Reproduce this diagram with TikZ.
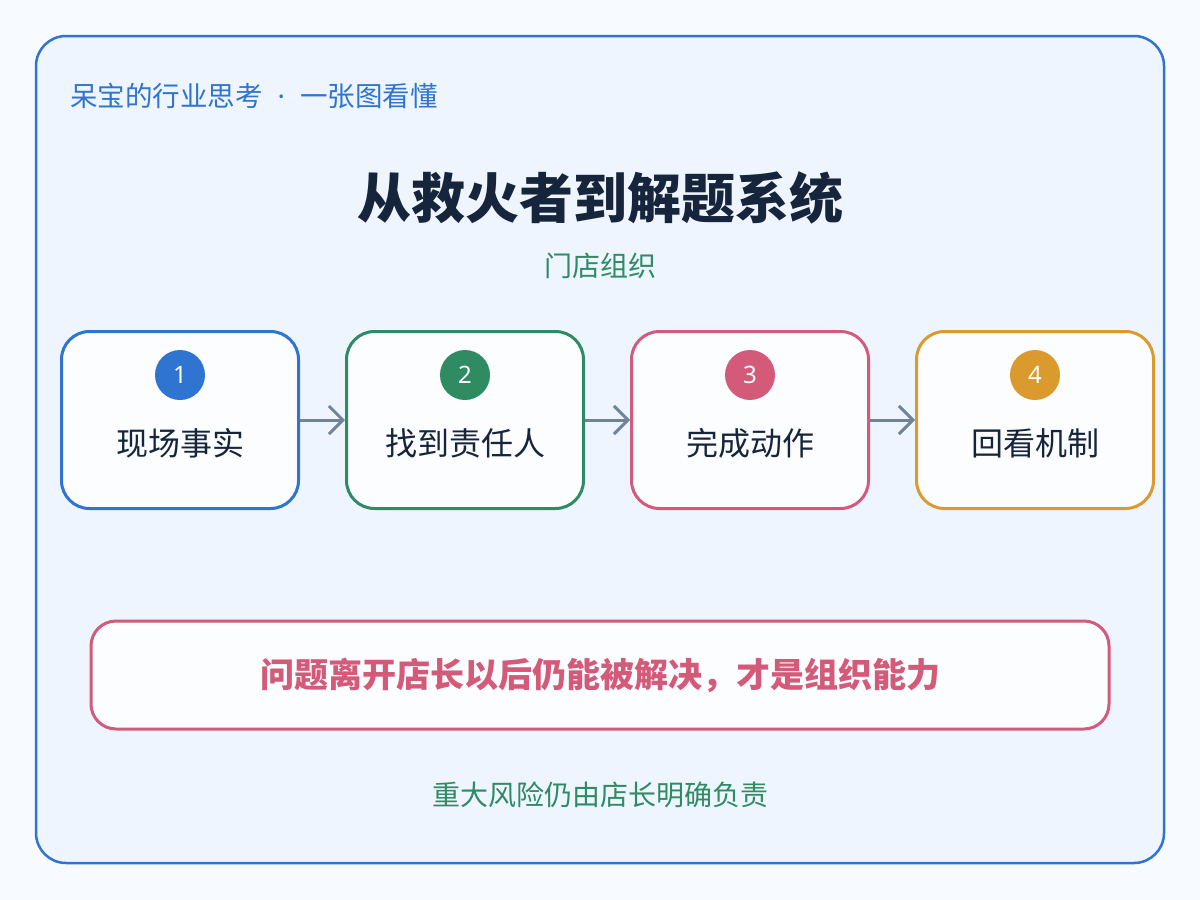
\documentclass[tikz,border=0pt]{standalone}
\usepackage{fontspec}
\setmainfont{Noto Sans}
\newfontfamily\cjk{Noto Sans CJK SC}
\usepackage{xcolor}
\usetikzlibrary{arrows.meta,positioning}

\definecolor{pagebg}{HTML}{F7FAFE}
\definecolor{panelbg}{HTML}{EEF5FE}
\definecolor{cardbg}{HTML}{FBFDFF}
\definecolor{cblue}{HTML}{2F74D0}
\definecolor{cgreen}{HTML}{2E8B62}
\definecolor{cpink}{HTML}{D45A79}
\definecolor{corange}{HTML}{DA9A2E}
\definecolor{inkdark}{HTML}{16253B}
\definecolor{arrgray}{HTML}{708399}

\begin{document}
\begin{tikzpicture}[
    x=1pt, y=1pt,
    node distance=45pt,
    card/.style={draw, line width=3pt, rounded corners=28pt, fill=cardbg, minimum width=237pt, minimum height=177pt},
    num/.style={circle, minimum size=50pt, inner sep=0pt, text=white, font=\fontsize{24}{26}\selectfont},
    lbl/.style={text=inkdark, font=\cjk\fontsize{32}{36}\selectfont},
    arr/.style={-{Straight Barb[length=14pt, width=28pt, line width=3pt]}, line width=3pt, arrgray}
]
% page and panel
\fill[pagebg] (0,0) rectangle (1200,-900);
\draw[cblue, line width=2.5pt, fill=panelbg, rounded corners=30pt] (36,-36) rectangle (1164,-863);

% headings
\node[anchor=west, text=cblue, font=\cjk\fontsize{27.5}{30}\selectfont, inner sep=0pt] (brand) at (70,-96) {呆宝的行业思考{\rmfamily\hspace{15pt}·\hspace{15pt}}一张图看懂};
\node[text=inkdark, font=\cjk\bfseries\fontsize{54}{60}\selectfont] (title) at (600,-198) {从救火者到解题系统};
\node[text=cgreen, font=\cjk\fontsize{28}{30}\selectfont] (sub) at (600,-266) {门店组织};

% steps
\node[card, draw=cblue] (s1) at (180,-420) {};
\node[card, draw=cgreen, right=of s1] (s2) {};
\node[card, draw=cpink, right=of s2] (s3) {};
\node[card, draw=corange, right=of s3] (s4) {};

\node[num, fill=cblue] (n1) at ([yshift=-45pt]s1.north) {1};
\node[num, fill=cgreen] (n2) at ([yshift=-45pt]s2.north) {2};
\node[num, fill=cpink] (n3) at ([yshift=-45pt]s3.north) {3};
\node[num, fill=corange] (n4) at ([yshift=-45pt]s4.north) {4};

\node[lbl] (l1) at ([yshift=-23pt]s1.center) {现场事实};
\node[lbl] (l2) at ([yshift=-23pt]s2.center) {找到责任人};
\node[lbl] (l3) at ([yshift=-23pt]s3.center) {完成动作};
\node[lbl] (l4) at ([yshift=-23pt]s4.center) {回看机制};

\draw[arr] (s1) -- (s2);
\draw[arr] (s2) -- (s3);
\draw[arr] (s3) -- (s4);

% takeaway
\node[draw=cpink, line width=3pt, rounded corners=25pt, fill=cardbg, minimum width=1018pt, minimum height=108pt,
      text=cpink, font=\cjk\bfseries\fontsize{34}{38}\selectfont] (key) at (600,-675) {问题离开店长以后仍能被解决，才是组织能力};
\node[text=cgreen, font=\cjk\fontsize{28}{30}\selectfont] (note) at (600,-795) {重大风险仍由店长明确负责};
\end{tikzpicture}
\end{document}
